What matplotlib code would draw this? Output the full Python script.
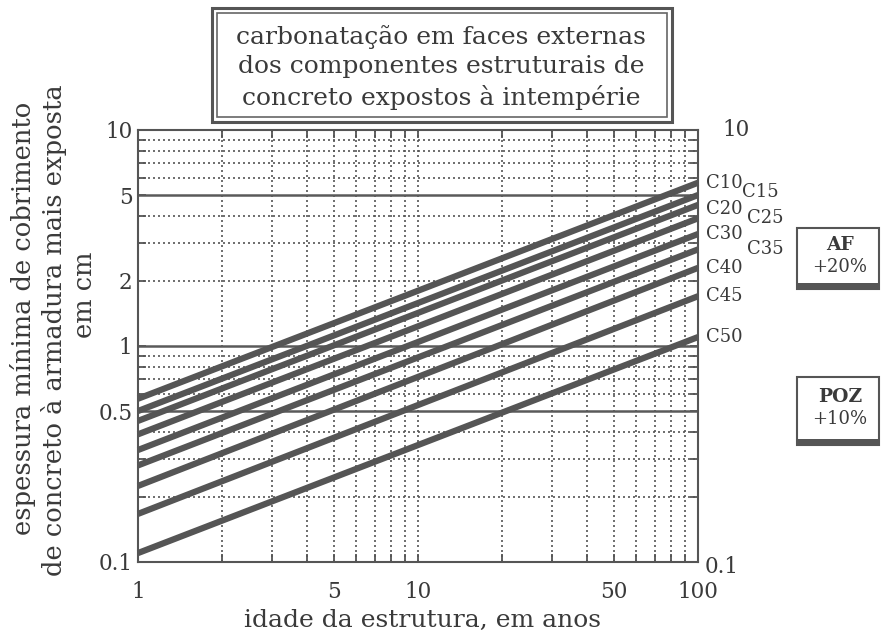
import matplotlib
matplotlib.use('Agg')
import matplotlib.pyplot as plt
from matplotlib.patches import Rectangle
from matplotlib.ticker import FixedLocator, NullFormatter

plt.rcParams['font.family'] = ['DejaVu Serif']

# data (carbonation depth, cm)
grades = ['C10', 'C15', 'C20', 'C25', 'C30', 'C35', 'C40', 'C45', 'C50']
ages = [1, 100]
depth_1yr = [0.57, 0.50, 0.45, 0.39, 0.33, 0.28, 0.225, 0.167, 0.11]
depth_100yr = [5.7, 5.0, 4.5, 3.9, 3.3, 2.8, 2.3, 1.7, 1.1]

x_ticks = [1, 5, 10, 50, 100]
y_ticks = [0.1, 0.5, 1, 2, 5, 10]

ink = '#3a3a3a'
line_c = '#555555'

W, H = 884, 635
fx = lambda x: x / W
fy = lambda y: 1 - y / H

fig = plt.figure(figsize=(8.84, 6.35), dpi=100)
ax = fig.add_axes([fx(138), fy(562), 560 / W, 432 / H])
ax.set_xscale('log')
ax.set_yscale('log')
ax.set_xlim(1, 100)
ax.set_ylim(0.1, 10)

# grid
dot = (0, (1.2, 1.8))
for v in [2, 3, 4, 5, 6, 7, 8, 9, 10, 20, 30, 40, 50, 60, 70, 80, 90]:
    ax.axvline(v, color=line_c, lw=1.2, ls=dot, zorder=1)
for v in [0.2, 0.3, 0.4, 0.6, 0.7, 0.8, 0.9, 2, 3, 4, 6, 7, 8, 9]:
    ax.axhline(v, color=line_c, lw=1.2, ls=dot, zorder=1)
for v in [0.5, 1, 5]:
    ax.axhline(v, color='#5a5a5a', lw=1.8, zorder=2)

for i in range(len(grades)):
    ax.plot(ages, [depth_1yr[i], depth_100yr[i]], color=line_c, lw=4.5,
            solid_capstyle='butt', zorder=3, clip_on=False)

# line labels, alternating columns
label_dx = [6, 32, 6, 35, 6, 35, 6, 6, 6]
label_dy = [0, 2, -3, 0, 0, 0, 0, 0, 0]
for g, v, dx, dy in zip(grades, depth_100yr, label_dx, label_dy):
    ax.annotate(g, xy=(100, v), xytext=(dx, dy), textcoords='offset points',
                ha='left', va='center', fontsize=13, color=ink)

for s in ax.spines.values():
    s.set_color('#555555')
    s.set_linewidth(1.5)

ax.xaxis.set_major_locator(FixedLocator(x_ticks))
ax.set_xticklabels(['1', '5', '10', '50', '100'])
ax.xaxis.set_minor_locator(FixedLocator([2, 3, 4, 6, 7, 8, 9, 20, 30, 40, 60, 70, 80, 90]))
ax.xaxis.set_minor_formatter(NullFormatter())
ax.yaxis.set_major_locator(FixedLocator(y_ticks))
ax.set_yticklabels(['0.1', '0.5', '1', '2', '5', '10'])
ax.yaxis.set_minor_locator(FixedLocator([0.2, 0.3, 0.4, 0.6, 0.7, 0.8, 0.9, 3, 4, 6, 7, 8, 9]))
ax.yaxis.set_minor_formatter(NullFormatter())
ax.tick_params(which='both', direction='in', top=True, right=True, length=6,
               width=1.3, color='#555555', labelcolor=ink, labelsize=15.5)
ax.tick_params(axis='x', pad=14)
ax.tick_params(axis='y', pad=4)

ax.text(1.043, 1.0, '10', transform=ax.transAxes, ha='left', va='center',
        fontsize=15.5, color=ink)
ax.text(1.012, -0.012, '0.1', transform=ax.transAxes, ha='left', va='center',
        fontsize=15.5, color=ink)

fig.text(fx(422), fy(620), 'idade da estrutura, em anos', ha='center', va='center',
         fontsize=18, color=ink)

ylab = ['espessura mínima de cobrimento', 'de concreto à armadura mais exposta', 'em cm']
ylab_x = [23, 54, 85]
ylab_y = [318, 330, 295]
for t, x, y in zip(ylab, ylab_x, ylab_y):
    fig.text(fx(x), fy(y), t, rotation=90, ha='center', va='center',
             fontsize=18.5, color=ink)

# title box with double frame
fig.patches.append(Rectangle((fx(212), fy(122)), (672 - 212) / W, (122 - 8) / H,
                             transform=fig.transFigure, fill=False,
                             ec='#555555', lw=2.2))
fig.patches.append(Rectangle((fx(217), fy(117)), (667 - 217) / W, (117 - 13) / H,
                             transform=fig.transFigure, fill=False,
                             ec='#666666', lw=1.2))
title = ['carbonatação em faces externas', 'dos componentes estruturais de',
         'concreto expostos à intempérie']
for t, y in zip(title, [37, 67, 97]):
    fig.text(fx(441), fy(y), t, ha='center', va='center', fontsize=18, color=ink)

# side boxes
boxes = [('AF', '+20%', 228, 289), ('POZ', '+10%', 377, 445)]
for head, pct, top, bot in boxes:
    fig.patches.append(Rectangle((fx(797), fy(bot)), (879 - 797) / W, (bot - top) / H,
                                 transform=fig.transFigure, fc='white',
                                 ec='#555555', lw=1.5))
    fig.patches.append(Rectangle((fx(797), fy(bot)), (879 - 797) / W, 6 / H,
                                 transform=fig.transFigure, fc='#555555',
                                 ec='none'))
    mid = (top + bot - 6) / 2
    fig.text(fx(840), fy(mid - 11), head, ha='center', va='center',
             fontsize=13.5, fontweight='bold', color=ink)
    fig.text(fx(840), fy(mid + 11), pct, ha='center', va='center',
             fontsize=13, color=ink)

fig.savefig('out.png', dpi=100, facecolor='white')
